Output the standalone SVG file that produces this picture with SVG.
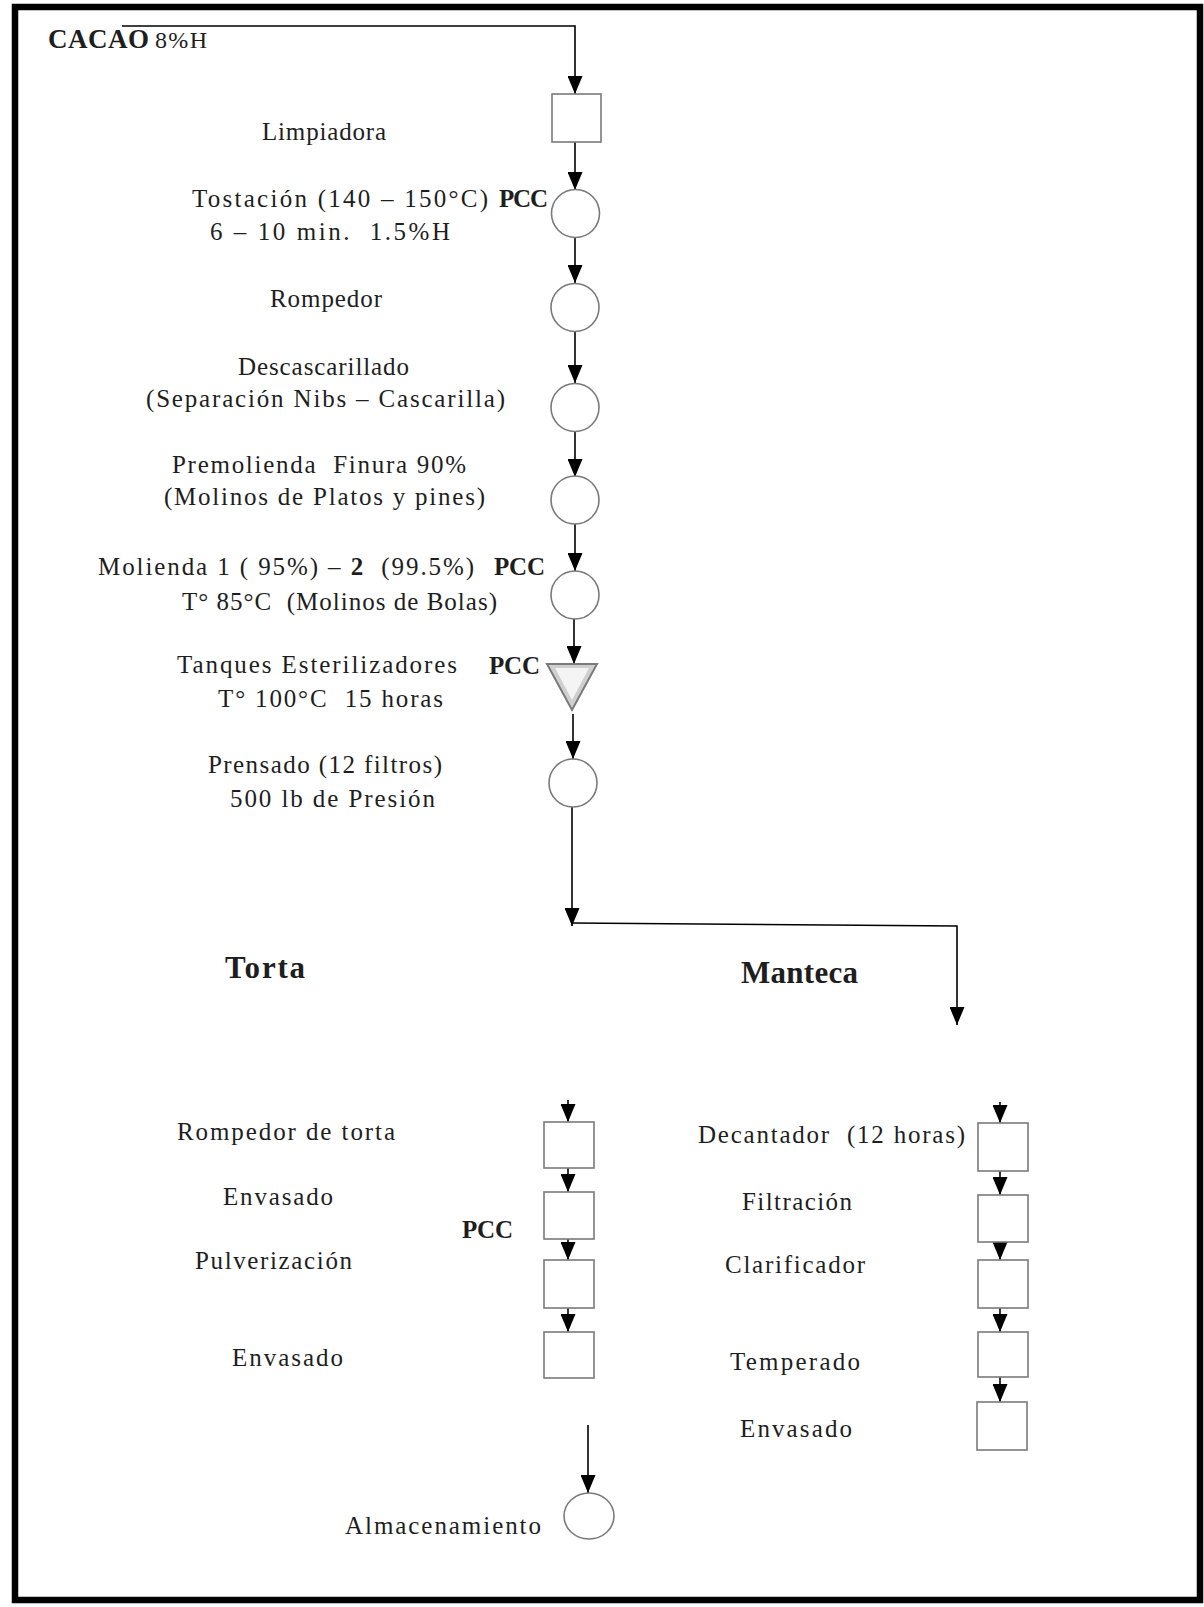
<svg xmlns="http://www.w3.org/2000/svg" width="1204" height="1607" viewBox="0 0 1204 1607">
<style>
.t{font-family:"Liberation Serif","Times New Roman",serif;font-size:25px;fill:#1e1e1e}
.b{font-weight:bold}
.big{font-size:31px}
.n{fill:#fff;stroke:#7a7a7a;stroke-width:1.6}
.c{fill:none;stroke:#000;stroke-width:1.6}
</style>
<defs>
<marker id="ah" viewBox="0 0 18 15" refX="18" refY="7.5" markerWidth="18" markerHeight="15" markerUnits="userSpaceOnUse" orient="auto">
<path d="M0,0 L18,7.5 L0,15 z" fill="#000"/>
</marker>
</defs>
<rect x="0" y="0" width="1204" height="1607" fill="#fff"/>
<rect x="15" y="7" width="1185" height="1593" fill="none" stroke="#000" stroke-width="6.5"/>

<g id="connectors">
<path class="c" d="M122,26 H575 V94" marker-end="url(#ah)"/>
<path class="c" d="M575,142 V190" marker-end="url(#ah)"/>
<path class="c" d="M575,237 V283" marker-end="url(#ah)"/>
<path class="c" d="M575,332 V383" marker-end="url(#ah)"/>
<path class="c" d="M575,432 V477" marker-end="url(#ah)"/>
<path class="c" d="M575,524 V571" marker-end="url(#ah)"/>
<path class="c" d="M574,619 V664" marker-end="url(#ah)"/>
<path class="c" d="M573,714 V759" marker-end="url(#ah)"/>
<path class="c" d="M572,807 V926" marker-end="url(#ah)"/>
<path class="c" d="M572,923 L957,926 V1025" marker-end="url(#ah)"/>
<path class="c" d="M568,1100 V1122" marker-end="url(#ah)"/>
<path class="c" d="M568,1168 V1192" marker-end="url(#ah)"/>
<path class="c" d="M568,1239 V1260" marker-end="url(#ah)"/>
<path class="c" d="M568,1308 V1332" marker-end="url(#ah)"/>
<path class="c" d="M1000,1102 V1123" marker-end="url(#ah)"/>
<path class="c" d="M1000,1171 V1195" marker-end="url(#ah)"/>
<path class="c" d="M1000,1242 V1260" marker-end="url(#ah)"/>
<path class="c" d="M1000,1308 V1332" marker-end="url(#ah)"/>
<path class="c" d="M1000,1377 V1402" marker-end="url(#ah)"/>
<path class="c" d="M588,1425 V1493" marker-end="url(#ah)"/>
</g>

<g id="cacao">
<text class="t b" x="48" y="48" textLength="101" lengthAdjust="spacing" style="font-size:27px">CACAO</text>
<text class="t" x="155" y="48" textLength="52" lengthAdjust="spacing" style="font-size:24px">8%H</text>
</g>

<g id="limpiadora">
<rect class="n" x="552" y="94" width="49" height="48"/>
<text class="t" x="262" y="140" textLength="124" lengthAdjust="spacing">Limpiadora</text>
</g>

<g id="tostacion">
<circle class="n" cx="575.5" cy="213.5" r="24"/>
<text class="t" x="192" y="207" textLength="296" lengthAdjust="spacing">Tostación (140 – 150°C)</text>
<text class="t b" x="499" y="207" textLength="49" lengthAdjust="spacing">PCC</text>
<text class="t" x="210" y="240" textLength="240" lengthAdjust="spacing" xml:space="preserve">6 – 10 min.  1.5%H</text>
</g>

<g id="rompedor">
<circle class="n" cx="575" cy="307.5" r="24"/>
<text class="t" x="270" y="307" textLength="112" lengthAdjust="spacing">Rompedor</text>
</g>

<g id="descascarillado">
<circle class="n" cx="575" cy="407.5" r="24"/>
<text class="t" x="238" y="375" textLength="171" lengthAdjust="spacing">Descascarillado</text>
<text class="t" x="146" y="407" textLength="359" lengthAdjust="spacing">(Separación Nibs – Cascarilla)</text>
</g>

<g id="premolienda">
<circle class="n" cx="575" cy="500" r="24"/>
<text class="t" x="172" y="473" textLength="294" lengthAdjust="spacing" xml:space="preserve">Premolienda  Finura 90%</text>
<text class="t" x="164" y="505" textLength="321" lengthAdjust="spacing">(Molinos de Platos y pines)</text>
</g>

<g id="molienda">
<circle class="n" cx="575" cy="595" r="24"/>
<text class="t" x="98" y="575" textLength="376" lengthAdjust="spacing" xml:space="preserve">Molienda 1 ( 95%) – <tspan class="b">2</tspan>  (99.5%)</text>
<text class="t b" x="494" y="575" textLength="51" lengthAdjust="spacing">PCC</text>
<text class="t" x="182" y="610" textLength="315" lengthAdjust="spacing" xml:space="preserve">T° 85°C  (Molinos de Bolas)</text>
</g>

<g id="tanques">
<polygon points="547,664 597,664 572,710" fill="#cfcfcf" stroke="#7a7a7a" stroke-width="2"/>
<polygon points="555,668 589,668 572,700" fill="#f4f4f4"/>
<text class="t" x="177" y="673" textLength="280" lengthAdjust="spacing">Tanques Esterilizadores</text>
<text class="t b" x="489" y="674" textLength="51" lengthAdjust="spacing">PCC</text>
<text class="t" x="218" y="707" textLength="225" lengthAdjust="spacing" xml:space="preserve">T° 100°C  15 horas</text>
</g>

<g id="prensado">
<circle class="n" cx="573" cy="783" r="24"/>
<text class="t" x="208" y="773" textLength="234" lengthAdjust="spacing">Prensado (12 filtros)</text>
<text class="t" x="230" y="807" textLength="205" lengthAdjust="spacing">500 lb de Presión</text>
</g>

<g id="torta">
<text class="t b big" x="225" y="978" textLength="80" lengthAdjust="spacing">Torta</text>
</g>
<g id="manteca">
<text class="t b big" x="741" y="983" textLength="117" lengthAdjust="spacing">Manteca</text>
</g>

<g id="rompedor-torta">
<rect class="n" x="544" y="1122" width="50" height="46"/>
<text class="t" x="177" y="1140" textLength="218" lengthAdjust="spacing">Rompedor de torta</text>
</g>
<g id="envasado-torta-1">
<rect class="n" x="544" y="1192" width="50" height="47"/>
<text class="t" x="223" y="1205" textLength="110" lengthAdjust="spacing">Envasado</text>
<text class="t b" x="462" y="1238" textLength="51" lengthAdjust="spacing">PCC</text>
</g>
<g id="pulverizacion">
<rect class="n" x="544" y="1260" width="50" height="48"/>
<text class="t" x="195" y="1269" textLength="157" lengthAdjust="spacing">Pulverización</text>
</g>
<g id="envasado-torta-2">
<rect class="n" x="544" y="1332" width="50" height="46"/>
<text class="t" x="232" y="1366" textLength="111" lengthAdjust="spacing">Envasado</text>
</g>

<g id="decantador">
<rect class="n" x="978" y="1123" width="50" height="48"/>
<text class="t" x="698" y="1143" textLength="267" lengthAdjust="spacing" xml:space="preserve">Decantador  (12 horas)</text>
</g>
<g id="filtracion">
<rect class="n" x="978" y="1195" width="50" height="47"/>
<text class="t" x="742" y="1210" textLength="110" lengthAdjust="spacing">Filtración</text>
</g>
<g id="clarificador">
<rect class="n" x="978" y="1260" width="50" height="48"/>
<text class="t" x="725" y="1273" textLength="140" lengthAdjust="spacing">Clarificador</text>
</g>
<g id="temperado">
<rect class="n" x="978" y="1332" width="50" height="45"/>
<text class="t" x="730" y="1370" textLength="130" lengthAdjust="spacing">Temperado</text>
</g>
<g id="envasado-manteca">
<rect class="n" x="977" y="1402" width="50" height="48"/>
<text class="t" x="740" y="1437" textLength="112" lengthAdjust="spacing">Envasado</text>
</g>

<g id="almacenamiento">
<ellipse class="n" cx="589" cy="1516" rx="25" ry="23"/>
<text class="t" x="345" y="1534" textLength="196" lengthAdjust="spacing">Almacenamiento</text>
</g>
</svg>
